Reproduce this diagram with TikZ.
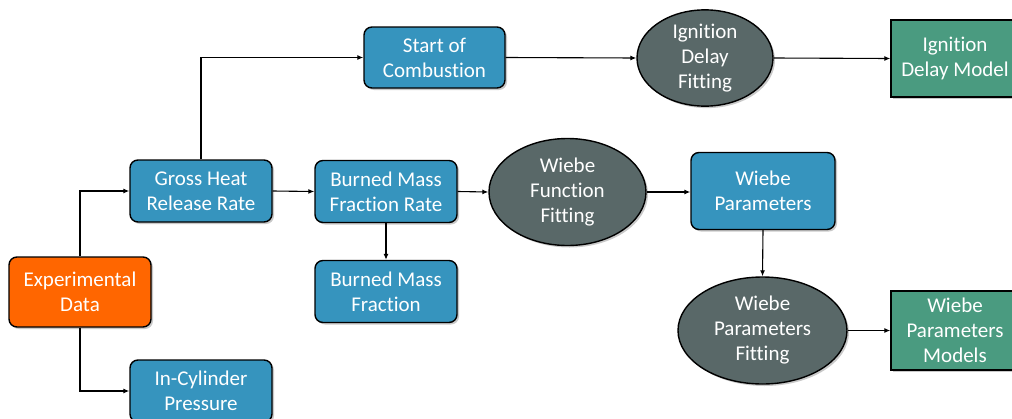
\documentclass[tikz,border=0pt]{standalone}
\usepackage{fontspec}
\setmainfont[Ligatures={NoCommon,NoContextual}]{Carlito}
\usetikzlibrary{arrows.meta,shadows,shapes.geometric}
\definecolor{boxblue}{RGB}{54,148,190}
\definecolor{ellgray}{RGB}{89,104,104}
\definecolor{modgreen}{RGB}{74,155,128}
\definecolor{exporange}{RGB}{255,102,0}
\tikzset{
  base/.style={draw=black, line width=1.4pt, text=white, align=center, inner sep=0pt,
    font=\fontsize{21}{25}\selectfont,
    drop shadow={shadow xshift=2pt, shadow yshift=-2pt, opacity=0.35, fill=black!60}},
  bluebox/.style={base, fill=boxblue, rounded corners=8pt, minimum width=142pt, minimum height=62pt},
  orangebox/.style={base, fill=exporange, rounded corners=8pt, minimum width=142pt, minimum height=70pt},
  fitell/.style={base, fill=ellgray, ellipse},
  greenbox/.style={base, fill=modgreen, minimum width=128pt},
  conn/.style={draw=black, line width=1.1pt, -{Latex[length=6pt,width=5pt]}}
}
\begin{document}
\begin{tikzpicture}[x=1pt,y=-1pt]
\useasboundingbox (0,0) rectangle (1012,418);
\fill[white] (0,0) rectangle (1012,418);
\begin{scope}
\clip (0,0) rectangle (1012,418);
\node[orangebox] (exp) at (80,292) {Experimental\\Data};
\node[bluebox] (ghr) at (201,191) {Gross Heat\\Release Rate};
\node[bluebox] (icp) at (201,391) {In-Cylinder\\Pressure};
\node[bluebox, minimum width=141pt, minimum height=61pt] (soc) at (434.5,57.5) {Start of\\Combustion};
\node[fitell, minimum width=136pt, minimum height=96pt] (idf) at (705,58) {Ignition\\Delay\\Fitting};
\node[greenbox, minimum height=77pt] (idm) at (955,58.5) {Ignition\\Delay Model};
\node[bluebox] (bmfr) at (386,191.5) {Burned Mass\\Fraction Rate};
\node[bluebox] (bmf) at (386,291.5) {Burned Mass\\Fraction};
\node[fitell, minimum width=157pt, minimum height=107pt] (wff) at (567.5,192) {Wiebe\\Function\\Fitting};
\node[bluebox, minimum width=144pt, minimum height=77pt] (wp) at (763,191) {Wiebe\\Parameters};
\node[fitell, minimum width=169pt, minimum height=107pt] (wpf) at (762.5,330.5) {Wiebe\\Parameters\\Fitting};
\node[greenbox, minimum height=79pt] (wpm) at (955,330.5) {Wiebe\\Parameters\\Models};
\end{scope}
\draw[conn] (exp.north) |- (ghr.west);
\draw[conn] (exp.south) |- (icp.west);
\draw[conn] (ghr.north) |- (soc.west);
\draw[conn] (ghr.east) -- (bmfr.west);
\draw[conn] (bmfr.east) -- (wff.west);
\draw[conn] (bmfr.south) -- (bmf.north);
\draw[conn] (wff.east) -- (wp.west |- wff.east);
\draw[conn] (wp.south) -- (wpf.north);
\draw[conn] (wpf.east) -- (wpm.west);
\draw[conn] (soc.east) -- (idf.west);
\draw[conn] (idf.east) -- (idm.west);
\end{tikzpicture}
\end{document}
